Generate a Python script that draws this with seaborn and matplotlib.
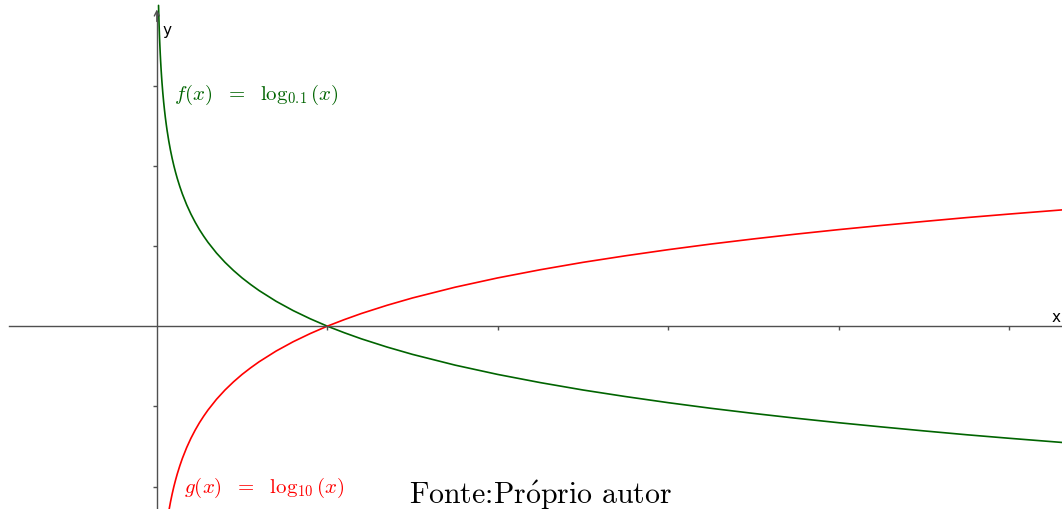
import matplotlib
matplotlib.use('Agg')
import matplotlib.pyplot as plt
import seaborn as sns
import pandas as pd

# values
x_vals = [0.010, 0.011, 0.012, 0.013, 0.014, 0.015, 0.017, 0.020, 0.022, 0.025, 0.028, 0.030,
          0.035, 0.040, 0.045, 0.050, 0.055, 0.060, 0.070, 0.080, 0.090, 0.100, 0.110, 0.120,
          0.135, 0.150, 0.175, 0.200, 0.225, 0.250, 0.275, 0.300, 0.350, 0.400, 0.450, 0.500,
          0.550, 0.600, 0.700, 0.800, 0.900, 1.000, 1.100, 1.200, 1.350, 1.500, 1.750, 2.000,
          2.250, 2.500, 2.750, 3.000, 3.250, 3.500, 3.750, 4.000, 4.250, 4.500, 4.750, 5.000,
          5.310]
g_vals = [-2.000, -1.959, -1.921, -1.886, -1.854, -1.824, -1.770, -1.699, -1.658, -1.602, -1.553, -1.523,
          -1.456, -1.398, -1.347, -1.301, -1.260, -1.222, -1.155, -1.097, -1.046, -1.000, -0.959, -0.921,
          -0.870, -0.824, -0.757, -0.699, -0.648, -0.602, -0.561, -0.523, -0.456, -0.398, -0.347, -0.301,
          -0.260, -0.222, -0.155, -0.097, -0.046, 0.000, 0.041, 0.079, 0.130, 0.176, 0.243, 0.301,
          0.352, 0.398, 0.439, 0.477, 0.512, 0.544, 0.574, 0.602, 0.628, 0.653, 0.677, 0.699,
          0.725]
f_vals = [2.000, 1.959, 1.921, 1.886, 1.854, 1.824, 1.770, 1.699, 1.658, 1.602, 1.553, 1.523,
          1.456, 1.398, 1.347, 1.301, 1.260, 1.222, 1.155, 1.097, 1.046, 1.000, 0.959, 0.921,
          0.870, 0.824, 0.757, 0.699, 0.648, 0.602, 0.561, 0.523, 0.456, 0.398, 0.347, 0.301,
          0.260, 0.222, 0.155, 0.097, 0.046, 0.000, -0.041, -0.079, -0.130, -0.176, -0.243, -0.301,
          -0.352, -0.398, -0.439, -0.477, -0.512, -0.544, -0.574, -0.602, -0.628, -0.653, -0.677, -0.699,
          -0.725]
x_ticks = [1, 2, 3, 4, 5]
y_ticks = [-1, -0.5, 0.5, 1, 1.5]

GREEN = '#006400'
RED = '#FF0000'
AXIS = '#505050'

sns.set_style('white')
plt.rcParams['mathtext.fontset'] = 'cm'

df = pd.DataFrame({'x': x_vals, 'f': f_vals, 'g': g_vals})

fig = plt.figure(figsize=(10.62, 5.10), dpi=100)
ax = fig.add_axes([0, 0, 1, 1])

sns.lineplot(data=df, x='x', y='f', color=GREEN, lw=1.2, ax=ax, estimator=None)
sns.lineplot(data=df, x='x', y='g', color=RED, lw=1.2, ax=ax, estimator=None)

ax.set_xlim(-0.92, 5.31)
ax.set_ylim(-1.14, 2.04)

# axes through the origin
for s in ['top', 'right']:
    ax.spines[s].set_visible(False)
ax.spines['left'].set_position(('data', 0))
ax.spines['bottom'].set_position(('data', 0))
ax.spines['left'].set_bounds(-1.14, 1.96)
ax.spines['bottom'].set_bounds(-0.87, 5.31)
for s in ['left', 'bottom']:
    ax.spines[s].set_color(AXIS)
    ax.spines[s].set_linewidth(1.0)

ax.set_xticks(x_ticks)
ax.set_yticks(y_ticks)
ax.set_xticklabels([])
ax.set_yticklabels([])
ax.tick_params(axis='both', direction='out', length=3, width=1, color=AXIS,
               bottom=True, left=True)
ax.set_xlabel('')
ax.set_ylabel('')

# arrow head on the y axis
ax.annotate('', xy=(0, 1.975), xytext=(0, 1.90),
            arrowprops=dict(arrowstyle='->', color=AXIS, lw=1.0,
                            mutation_scale=9, shrinkA=0, shrinkB=0))

ax.text(0.035, 1.85, 'y', fontsize=11, color='black', family='DejaVu Sans', va='center')
ax.text(5.25, 0.06, 'x', fontsize=11, color='black', family='DejaVu Sans', va='center')

ax.text(0.10, 1.45, r'$f(x)\ \ =\ \ \log_{0.1}(x)$', fontsize=15, color=GREEN, va='center')
ax.text(0.16, -1.0, r'$g(x)\ \ =\ \ \log_{10}(x)$', fontsize=15, color=RED, va='center')

ax.text(1.48, -1.10, r'Fonte:Pr$\mathrm{\acute{o}}$prio autor', fontsize=21.5, family='cmr10',
        color='black', va='baseline', ha='left')

fig.savefig('out.png', dpi=100)
